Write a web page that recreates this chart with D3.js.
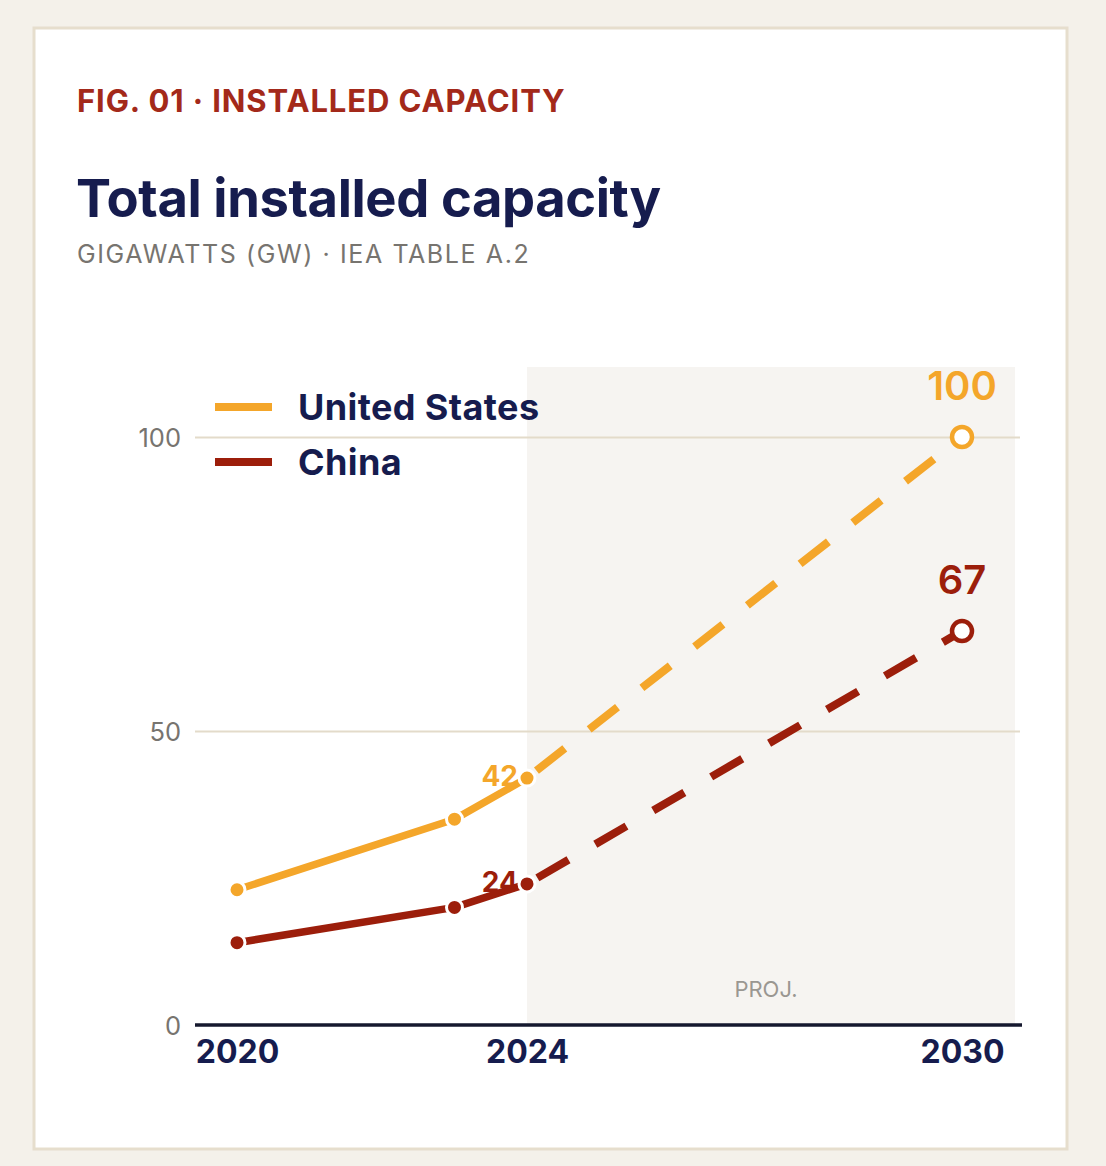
<!DOCTYPE html>
<html>
<head>
<meta charset="utf-8">
<script src="https://cdn.jsdelivr.net/npm/d3@7"></script>
<style>
  body { margin: 0; background: #f4f1ea; font-family: Inter, "Noto Sans", sans-serif; }
  svg { display: block; }
</style>
</head>
<body>
<div id="chart"></div>
<script>
var years = [2020, 2023, 2024, 2030]
var usValues = [23, 35, 42, 100]
var chinaValues = [14, 20, 24, 67]
var xTicks = [2020, 2024, 2030]
var yTicks = [0, 50, 100]
var projStart = 2024

var series = [
  {name: "United States", values: usValues, color: "#f4a62a"},
  {name: "China", values: chinaValues, color: "#9c1e0b"}
]

var W = 1106, H = 1166
var plot = {left: 195, right: 1020, top: 367, bottom: 1025}

var svg = d3.select('#chart').append('svg')
  .attr('width', W).attr('height', H)

svg.append('rect').attr('width', W).attr('height', H).attr('fill', '#f4f1ea')
// card
svg.append('rect')
  .attr('x', 34).attr('y', 28).attr('width', 1033).attr('height', 1121)
  .attr('fill', '#fff').attr('stroke', '#e6decd').attr('stroke-width', 3)

// headings
svg.append('text').attr('x', 77).attr('y', 112)
  .attr('fill', '#a3291a').attr('font-size', 31).attr('font-weight', 700)
  .attr('letter-spacing', 0.9)
  .text('FIG. 01 · INSTALLED CAPACITY')
svg.append('text').attr('x', 76).attr('y', 217)
  .attr('fill', '#161c4e').attr('font-size', 52.5).attr('font-weight', 700)
  .attr('letter-spacing', -0.4)
  .text('Total installed capacity')
svg.append('text').attr('x', 77).attr('y', 263)
  .attr('fill', '#77746f').attr('font-size', 25)
  .attr('letter-spacing', 1.6)
  .text('GIGAWATTS (GW) · IEA TABLE A.2')

var x = d3.scaleLinear().domain([2020, 2030]).range([237, 962])
var y = d3.scaleLinear().domain([0, 100]).range([plot.bottom, 437])

// projection shading
svg.append('rect')
  .attr('x', x(projStart)).attr('y', plot.top)
  .attr('width', plot.right - 5 - x(projStart)).attr('height', plot.bottom - plot.top)
  .attr('fill', '#f6f4f1')
svg.append('text')
  .attr('x', (x(projStart) + plot.right - 5) / 2 - 5).attr('y', 997)
  .attr('text-anchor', 'middle').attr('fill', '#9a9791').attr('font-size', 22)
  .text('PROJ.')

// grid + y labels
var yAxis = svg.append('g').attr('transform', 'translate(' + plot.left + ',0)')
  .call(d3.axisLeft(y).tickValues(yTicks).tickSize(-(plot.right - plot.left)).tickPadding(14))
yAxis.select('.domain').remove()
yAxis.selectAll('.tick line').attr('stroke', '#e3dbca').attr('stroke-width', 2)
  .filter(function(d) { return d === 0 }).remove()
yAxis.selectAll('.tick text').attr('fill', '#77746f').attr('font-size', 25.5)
  .attr('font-family', 'Inter, sans-serif').attr('dy', '0.36em')

// x axis
var xAxis = svg.append('g').attr('transform', 'translate(0,' + plot.bottom + ')')
  .call(d3.axisBottom(x).tickValues(xTicks).tickFormat(d3.format('d')).tickSize(0).tickPadding(26))
xAxis.select('.domain').remove()
xAxis.append('line').attr('x1', plot.left).attr('x2', plot.right + 2)
  .attr('stroke', '#15182e').attr('stroke-width', 3.5)
xAxis.selectAll('.tick text').attr('fill', '#161c4e').attr('font-size', 32)
  .attr('font-weight', 700).attr('font-family', 'Inter, sans-serif').attr('dy', '0.36em')

var line = d3.line()
  .x(function(d) { return x(d[0]) })
  .y(function(d) { return y(d[1]) })

series.forEach(function(s) {
  var g = svg.append('g')
  var pts = years.map(function(yr, i) { return [yr, s.values[i]] })
  var hist = pts.filter(function(p) { return p[0] <= projStart })
  var proj = pts.filter(function(p) { return p[0] >= projStart })
  g.append('path').attr('d', line(hist))
    .attr('fill', 'none').attr('stroke', s.color).attr('stroke-width', 7.5)
    .attr('stroke-linejoin', 'round')
  g.append('path').attr('d', line(proj))
    .attr('fill', 'none').attr('stroke', s.color).attr('stroke-width', 8)
    .attr('stroke-dasharray', '36,31').attr('stroke-dashoffset', -12)

  years.forEach(function(yr, i) {
    var last = i === years.length - 1
    g.append('circle')
      .attr('cx', x(yr)).attr('cy', y(s.values[i]))
      .attr('r', last ? 10 : 8)
      .attr('fill', last ? '#fff' : s.color)
      .attr('stroke', last ? s.color : '#fff')
      .attr('stroke-width', last ? 4.5 : 3)
  })

  // labels
  var iP = years.indexOf(projStart)
  g.append('text').attr('x', x(projStart) - 9).attr('y', y(s.values[iP]) + 8)
    .attr('text-anchor', 'end').attr('fill', s.color).attr('font-size', 28).attr('font-weight', 700)
    .text(s.values[iP])
  var iL = years.length - 1
  g.append('text').attr('x', x(years[iL])).attr('y', y(s.values[iL]) - 37)
    .attr('text-anchor', 'middle').attr('fill', s.color).attr('font-size', 40).attr('font-weight', 600)
    .text(s.values[iL])
})

// legend
var legend = svg.append('g')
series.forEach(function(s, i) {
  var ly = 407 + i * 55
  legend.append('line').attr('x1', 215).attr('x2', 272).attr('y1', ly).attr('y2', ly)
    .attr('stroke', s.color).attr('stroke-width', 8)
  legend.append('text').attr('x', 298).attr('y', ly + 13)
    .attr('fill', '#161c4e').attr('font-size', 36).attr('font-weight', 700)
    .attr('letter-spacing', 0.4)
    .text(s.name)
})
</script>
</body>
</html>
